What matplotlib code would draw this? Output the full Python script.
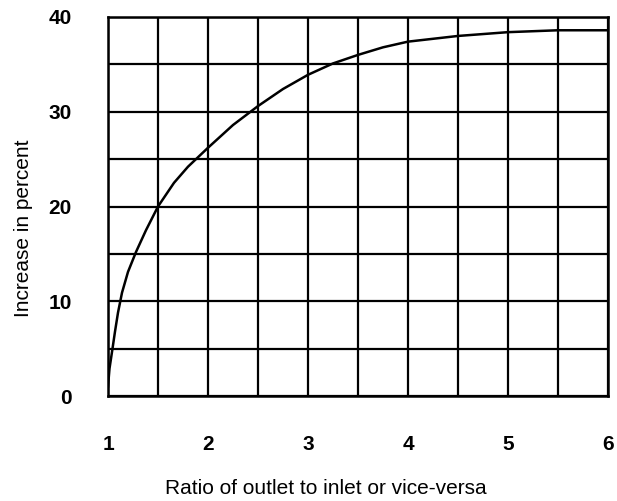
import matplotlib
matplotlib.use('Agg')
import matplotlib.pyplot as plt
import numpy as np

# ── Data ─────────────────────────────────────────────────────────────────────
ratio = [1.0, 1.015, 1.045, 1.07, 1.10, 1.14, 1.20, 1.28, 1.38, 1.50, 1.66,
         1.80, 1.90, 2.0, 2.25, 2.5, 2.75, 3.0, 3.25, 3.5, 3.75, 4.0, 4.5,
         5.0, 5.5, 6.0]
increase = [1.0, 2.9, 5.0, 6.8, 8.8, 10.9, 13.1, 15.2, 17.5, 20.0, 22.5,
            24.2, 25.2, 26.2, 28.6, 30.6, 32.4, 33.9, 35.1, 36.0, 36.8, 37.4,
            38.0, 38.4, 38.6, 38.6]

x_ticks = [1, 2, 3, 4, 5, 6]
y_ticks = [0, 10, 20, 30, 40]

# ── Figure ───────────────────────────────────────────────────────────────────
plt.rcParams['font.family'] = ['Liberation Sans', 'DejaVu Sans']

fig = plt.figure(figsize=(6.17, 5.01), dpi=100)
ax = fig.add_axes([108/617, 105/501, 500/617, 379/501])

ax.plot(ratio, increase, color='black', lw=1.8, zorder=3,
        solid_joinstyle='round')

ax.set_xlim(1, 6)
ax.set_ylim(0, 40)
ax.set_xticks(x_ticks)
ax.set_yticks(y_ticks)
ax.set_xticks(np.arange(1, 6.01, 0.5), minor=True)
ax.set_yticks(np.arange(0, 40.01, 5), minor=True)
ax.grid(which='both', color='black', lw=1.6)
ax.tick_params(which='both', length=0)
ax.tick_params(axis='x', pad=28, labelsize=15)
ax.tick_params(axis='y', pad=26, labelsize=15)
for lab in ax.get_xticklabels() + ax.get_yticklabels():
    lab.set_fontweight('bold')
for sp in ax.spines.values():
    sp.set_linewidth(1.8)

ax.set_xlabel('Ratio of outlet to inlet or vice-versa', fontsize=15, va='center')
ax.set_ylabel('Increase in percent', fontsize=15, va='center')
ax.xaxis.set_label_coords(0.436, -0.243)
ax.yaxis.set_label_coords(-0.17, 0.443)

fig.savefig('out.png', dpi=100, facecolor='white')
